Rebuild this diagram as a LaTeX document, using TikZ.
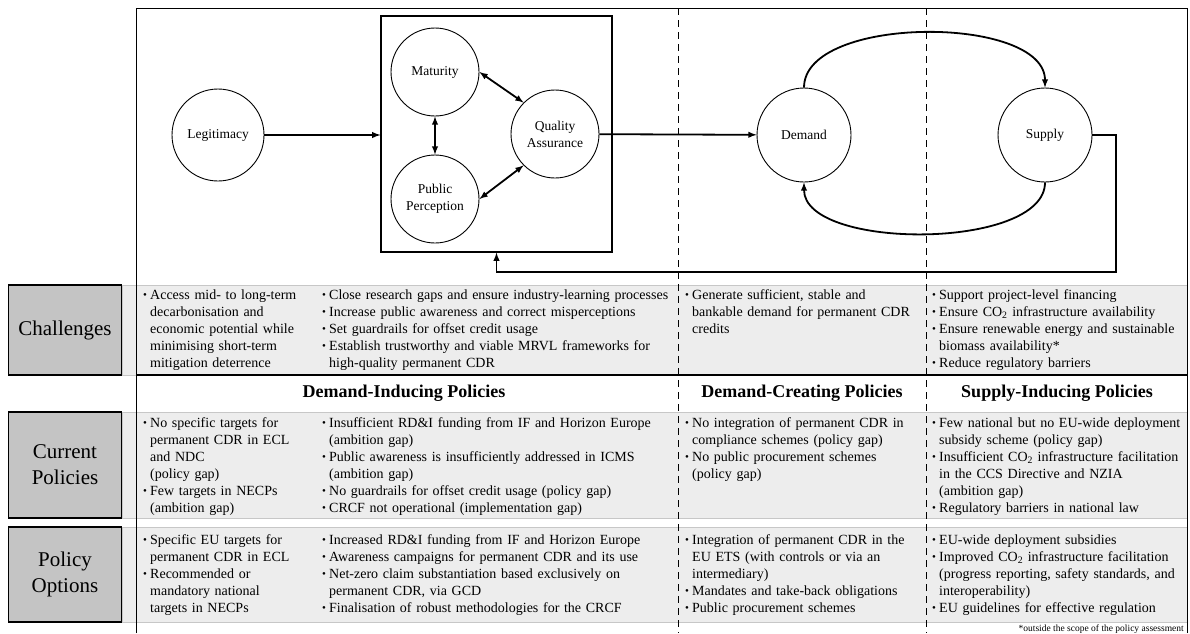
\documentclass[tikz,border=0pt]{standalone}
\usepackage{fontspec}
\setmainfont{Liberation Serif}
\usetikzlibrary{arrows}
\usetikzlibrary{shapes}

\newcommand{\bul}{\makebox[7pt][l]{\raisebox{0.5pt}{\fontsize{11}{11}\selectfont\textbullet}}}
\newcommand{\ind}{\hspace*{7pt}}

\begin{document}
\begin{tikzpicture}[x=1pt,y=-1pt,>=latex,
  circ/.style={draw,circle,line width=0.9pt,align=center,inner sep=0pt,font=\fontsize{13.5}{17}\selectfont},
  lab/.style={draw,line width=1.2pt,fill=black!23,minimum width=113pt,align=center,font=\fontsize{21}{26}\selectfont},
  band/.style={draw=black!22,fill=black!7},
  txt/.style={anchor=base west,inner sep=0pt,text width=400pt,align=left,font=\fontsize{14}{17}\selectfont},
  head/.style={font=\bfseries\fontsize{18}{20}\selectfont},
  link/.style={->,line width=1.8pt},
  twin/.style={<->,line width=1.8pt}]
\useasboundingbox (0,0) rectangle (1190,633);

% grey rows
\draw[band] (122,285) rectangle (1187,375);
\draw[band] (122,412) rectangle (1187,518);
\draw[band] (122,527) rectangle (1187,622);

\node[lab,minimum height=90pt] (chal) at (65,330) {Challenges};
\node[lab,minimum height=106pt] (curr) at (65,465) {Current\\Policies};
\node[lab,minimum height=95pt] (opt) at (65,574.5) {Policy\\Options};

% frame
\draw[line width=1pt] (136,633) -- (136,8) -- (1187,8) -- (1187,633);
\draw[line width=1.6pt] (136,375) -- (1187,375);
\foreach \x in {678,926}
{
\draw[line width=0.9pt,dash pattern=on 7pt off 5pt] (\x,8) -- (\x,633);
}

% diagram
\node[draw,line width=1.2pt,minimum width=231pt,minimum height=236pt,inner sep=0pt] (grp) at (496.5,134) {};
\node[circ,minimum size=92pt] (legit) at (218,135) {Legitimacy};
\node[circ,minimum size=88pt] (mat) at (435,72) {Maturity};
\node[circ,minimum size=88pt] (pub) at (435,199) {Public\\Perception};
\node[circ,minimum size=88pt] (qual) at (555,134) {Quality\\Assurance};
\node[circ,minimum size=94pt] (dem) at (804,135) {Demand};
\node[circ,minimum size=94pt] (sup) at (1045,135) {Supply};
\coordinate (fb) at (1116,272);

\draw[link] (legit.east) -- (legit.east -| grp.west);
\draw[twin] (mat.south) -- (pub.north);
\draw[twin] (mat.east) -- (qual.north west);
\draw[twin] (pub.east) -- (qual.south west);
\draw[link] (qual) -- (dem);
\draw[link] (dem.north) .. controls +(0,-73) and +(0,-73) .. (sup.north);
\draw[link] (sup.south) .. controls +(0,68) and +(0,68) .. (dem.south);
\draw[link] (sup.east) -| (fb) -| (grp.south);

% headings
\node[head] (hdi) at (404,393) {Demand-Inducing Policies};
\node[head] (hdc) at (802,393) {Demand-Creating Policies};
\node[head] (hsi) at (1057,393) {Supply-Inducing Policies};

% challenges
\node[txt] (ch1) at (143,299) {\bul Access mid- to long-term\\\ind decarbonisation and\\\ind economic potential while\\\ind minimising short-term\\\ind mitigation deterrence};
\node[txt] (ch2) at (322,299) {\bul Close research gaps and ensure industry-learning processes\\\bul Increase public awareness and correct misperceptions\\\bul Set guardrails for offset credit usage\\\bul Establish trustworthy and viable MRVL frameworks for\\\ind high-quality permanent CDR};
\node[txt] (ch3) at (685,299) {\bul Generate sufficient, stable and\\\ind bankable demand for permanent CDR\\\ind credits};
\node[txt] (ch4) at (932,299) {\bul Support project-level financing\\\bul Ensure CO\textsubscript{2} infrastructure availability\\\bul Ensure renewable energy and sustainable\\\ind biomass availability*\\\bul Reduce regulatory barriers};

% current policies
\node[txt] (cp1) at (143,427) {\bul No specific targets for\\\ind permanent CDR in ECL\\\ind and NDC\\\ind (policy gap)\\\bul Few targets in NECPs\\\ind (ambition gap)};
\node[txt] (cp2) at (322,427) {\bul Insufficient RD\&I funding from IF and Horizon Europe\\\ind (ambition gap)\\\bul Public awareness is insufficiently addressed in ICMS\\\ind (ambition gap)\\\bul No guardrails for offset credit usage (policy gap)\\\bul CRCF not operational (implementation gap)};
\node[txt] (cp3) at (685,427) {\bul No integration of permanent CDR in\\\ind compliance schemes (policy gap)\\\bul No public procurement schemes\\\ind (policy gap)};
\node[txt] (cp4) at (932,427) {\bul Few national but no EU-wide deployment\\\ind subsidy scheme (policy gap)\\\bul Insufficient CO\textsubscript{2} infrastructure facilitation\\\ind in the CCS Directive and NZIA\\\ind (ambition gap)\\\bul Regulatory barriers in national law};

% policy options
\node[txt] (po1) at (143,544) {\bul Specific EU targets for\\\ind permanent CDR in ECL\\\bul Recommended or\\\ind mandatory national\\\ind targets in NECPs};
\node[txt] (po2) at (322,544) {\bul Increased RD\&I funding from IF and Horizon Europe\\\bul Awareness campaigns for permanent CDR and its use\\\bul Net-zero claim substantiation based exclusively on\\\ind permanent CDR, via GCD\\\bul Finalisation of robust methodologies for the CRCF};
\node[txt] (po3) at (685,544) {\bul Integration of permanent CDR in the\\\ind EU ETS (with controls or via an\\\ind intermediary)\\\bul Mandates and take-back obligations\\\bul Public procurement schemes};
\node[txt] (po4) at (932,544) {\bul EU-wide deployment subsidies\\\bul Improved CO\textsubscript{2} infrastructure facilitation\\\ind (progress reporting, safety standards, and\\\ind interoperability)\\\bul EU guidelines for effective regulation};

\node[anchor=base east,inner sep=0pt,font=\fontsize{9.5}{10}\selectfont] (note) at (1184,631) {*outside the scope of the policy assessment};

\end{tikzpicture}
\end{document}
